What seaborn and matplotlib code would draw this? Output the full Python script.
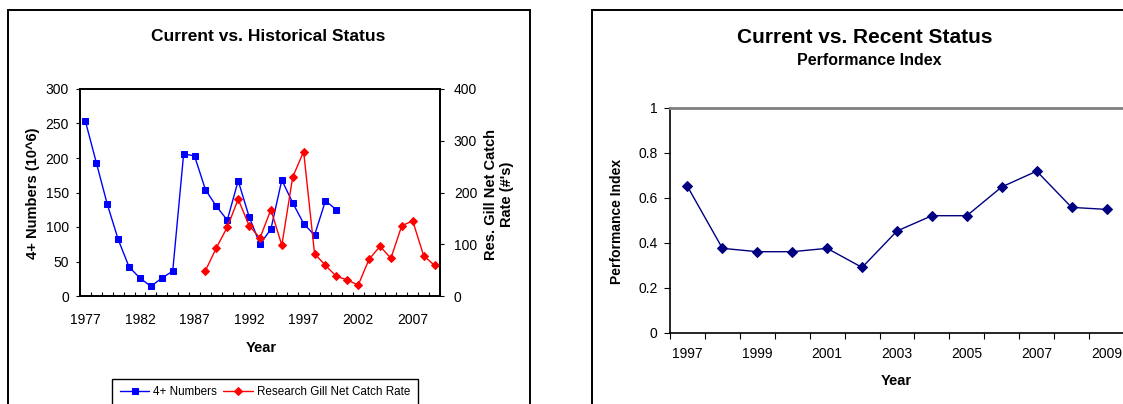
import matplotlib
matplotlib.use('Agg')
import numpy as np
import matplotlib.pyplot as plt
import seaborn as sns
from matplotlib.patches import Rectangle
from matplotlib.ticker import FixedLocator, MultipleLocator, FuncFormatter

# ---------------- data ----------------
hist_label_years = [1977, 1982, 1987, 1992, 1997, 2002, 2007]
num_years = [1977, 1978, 1979, 1980, 1981, 1982, 1983, 1984, 1985, 1986, 1987, 1988,
             1989, 1990, 1991, 1992, 1993, 1994, 1995, 1996, 1997, 1998, 1999, 2000]
num_vals = [253, 193, 133, 82, 42, 26, 14, 26, 36, 206, 203, 154,
            130, 110, 167, 115, 75, 97, 168, 135, 105, 88, 138, 125]
gill_years = [1988, 1989, 1990, 1991, 1992, 1993, 1994, 1995, 1996, 1997, 1998,
              1999, 2000, 2001, 2002, 2003, 2004, 2005, 2006, 2007, 2008, 2009]
gill_vals = [49, 93, 133, 187, 136, 112, 167, 98, 230, 279, 82,
             59, 38, 31, 21, 71, 96, 73, 136, 145, 78, 59]
pi_label_years = [1997, 1999, 2001, 2003, 2005, 2007, 2009]
pi_years = [1997, 1998, 1999, 2000, 2001, 2002, 2003, 2004, 2005, 2006, 2007, 2008, 2009]
pi_vals = [0.65, 0.375, 0.36, 0.36, 0.375, 0.29, 0.452, 0.52, 0.52, 0.648, 0.718, 0.557, 0.548]

# ---------------- style ----------------
sns.set_theme(style='white')
plt.rcParams['font.family'] = ['Liberation Sans', 'DejaVu Sans']
for k in ['text.color', 'axes.labelcolor', 'xtick.color', 'ytick.color', 'axes.edgecolor']:
    plt.rcParams[k] = 'black'

W, H = 1123, 404
fig = plt.figure(figsize=(W / 100, H / 100), dpi=100)


def fx(px):
    return px / W


def fy(py):
    return 1 - py / H


# chart frames
fig.add_artist(Rectangle((fx(7.5), fy(420)), fx(530) - fx(7.5), fy(10) - fy(420),
                         transform=fig.transFigure, fill=False, edgecolor='black', lw=1.4))
fig.add_artist(Rectangle((fx(591.5), fy(420)), fx(1140) - fx(591.5), fy(9.5) - fy(420),
                         transform=fig.transFigure, fill=False, edgecolor='black', lw=1.4))

# ---------------- left chart ----------------
ax1 = fig.add_axes([fx(80), fy(296), fx(440) - fx(80), fy(89) - fy(296)])
sns.lineplot(x=num_years, y=num_vals, ax=ax1, color='#0000FF', marker='s',
             markersize=4.8, markeredgecolor='#0000FF', lw=1.0, label='4+ Numbers')
ax1.set_xlim(1976.5, 2009.5)
ax1.set_ylim(0, 300)
ax1.yaxis.set_major_locator(MultipleLocator(50))
ax1.set_xticks(hist_label_years)
ax1.set_xticklabels([str(y) for y in hist_label_years])
ax1.xaxis.set_minor_locator(MultipleLocator(1, offset=0.5))
ax1.tick_params(axis='x', which='major', length=0, pad=12, labelsize=10)
ax1.tick_params(axis='x', which='minor', direction='in', length=3.2, width=0.8, bottom=True)
ax1.tick_params(axis='y', which='major', direction='out', length=3, width=0.8, left=True,
                pad=5, labelsize=10)
for s in ax1.spines.values():
    s.set_color('black')
    s.set_linewidth(1.3)

ax2 = ax1.twinx()
sns.lineplot(x=gill_years, y=gill_vals, ax=ax2, color='#FF0000', marker='D',
             markersize=4.2, markeredgecolor='#FF0000', lw=1.0,
             label='Research Gill Net Catch Rate')
ax2.set_xlim(1976.5, 2009.5)
ax2.set_ylim(0, 400)
ax2.yaxis.set_major_locator(MultipleLocator(100))
ax2.tick_params(axis='y', which='major', direction='out', length=3, width=0.8, right=True,
                pad=7, labelsize=10)
ax2.grid(False)
ax1.grid(False)

h1, l1 = ax1.get_legend_handles_labels()
h2, l2 = ax2.get_legend_handles_labels()
for a in (ax1, ax2):
    if a.get_legend() is not None:
        a.get_legend().remove()

ax1.set_ylabel('4+ Numbers (10^6)', fontsize=10.5, fontweight='bold')
ax1.yaxis.set_label_coords(-0.1306, 0.495)
ax1.yaxis.label.set_va('center')
ax2.set_ylabel("Res. Gill Net Catch\nRate (#'s)", fontsize=10.5, fontweight='bold',
               rotation=90, multialignment='center')
ax2.yaxis.set_label_coords(1.164, 0.49)
ax2.yaxis.label.set_va('center')
ax1.set_xlabel('Year', fontsize=10.5, fontweight='bold')
ax1.xaxis.set_label_coords(0.503, -0.25)
ax1.xaxis.label.set_va('center')

fig.legend(h1 + h2, l1 + l2, ncol=2, loc='upper center',
           bbox_to_anchor=(fx(265), fy(378.7)), frameon=True, fancybox=False,
           edgecolor='black', framealpha=1, fontsize=8.4, handlelength=2.5,
           columnspacing=0.55, borderpad=0.65, handletextpad=0.35, borderaxespad=0)

fig.text(fx(268.5), fy(36.3), 'Current vs. Historical Status', ha='center', va='center',
         fontsize=12.5, fontweight='bold')

# ---------------- right chart ----------------
ax3 = fig.add_axes([fx(670), fy(332.7), fx(1124) - fx(670), fy(107.7) - fy(332.7)])
sns.lineplot(x=pi_years, y=pi_vals, ax=ax3, color='#000080', marker='D',
             markersize=5, markeredgecolor='#000080', lw=1.0)
ax3.set_xlim(1996.5, 2009.5)
ax3.set_ylim(0, 1)
ax3.yaxis.set_major_locator(MultipleLocator(0.2))
ax3.yaxis.set_major_formatter(FuncFormatter(lambda v, p: f'{v:g}'))
ax3.set_xticks(pi_label_years)
ax3.set_xticklabels([str(y) for y in pi_label_years])
ax3.xaxis.set_minor_locator(MultipleLocator(1, offset=0.5))
ax3.tick_params(axis='x', which='major', length=0, pad=10, labelsize=10)
ax3.tick_params(axis='x', which='minor', direction='out', length=4, width=0.8, bottom=True)
ax3.tick_params(axis='y', which='major', direction='out', length=4, width=0.8, left=True,
                pad=5, labelsize=10)
ax3.grid(False)
ax3.spines['left'].set_color('black')
ax3.spines['bottom'].set_color('black')
ax3.spines['left'].set_linewidth(1.2)
ax3.spines['bottom'].set_linewidth(1.2)
ax3.spines['top'].set_color('#7f7f7f')
ax3.spines['top'].set_linewidth(2.0)
ax3.spines['right'].set_visible(False)
if ax3.get_legend() is not None:
    ax3.get_legend().remove()

ax3.set_ylabel('Performance Index', fontsize=10, fontweight='bold')
ax3.yaxis.set_label_coords(-0.1158, 0.496)
ax3.yaxis.label.set_va('center')
ax3.set_xlabel('Year', fontsize=10.5, fontweight='bold')
ax3.xaxis.set_label_coords(0.4994, -0.2147)
ax3.xaxis.label.set_va('center')

fig.text(fx(865), fy(37.3), 'Current vs. Recent Status', ha='center', va='center',
         fontsize=15, fontweight='bold')
fig.text(fx(869), fy(60.7), 'Performance Index', ha='center', va='center',
         fontsize=11.5, fontweight='bold')

fig.savefig('out.png', dpi=100)
